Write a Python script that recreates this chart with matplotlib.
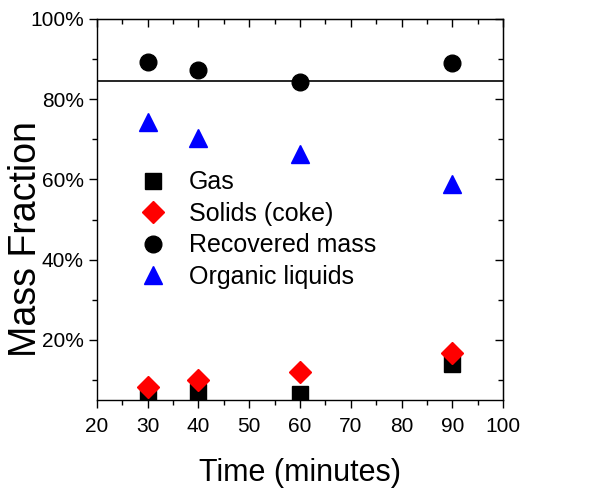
import matplotlib
matplotlib.use("Agg")
import matplotlib.pyplot as plt
from matplotlib.ticker import MultipleLocator, FuncFormatter

plt.rcParams["font.family"] = ["Liberation Sans", "DejaVu Sans"]

time_min = [30, 40, 60, 90]
gas = [6.5, 7.0, 6.5, 14.0]
solids = [8.3, 10.0, 12.0, 16.7]
recovered = [89.3, 87.3, 84.3, 89.0]
organic = [74.3, 70.3, 66.3, 58.8]
mean_recovered = 84.5

fig = plt.figure(figsize=(6.1, 4.96), dpi=100)
ax = fig.add_axes([0.159, 0.1935, 0.6656, 0.7682])

ax.plot(time_min, gas, "s", color="black", markersize=11.5, label="Gas")
ax.plot(time_min, solids, "D", color="red", markersize=11.5, label="Solids (coke)")
ax.plot(time_min, recovered, "o", color="black", markersize=12, label="Recovered mass")
ax.plot(time_min, organic, "^", color="blue", markersize=13.5, label="Organic liquids")
ax.axhline(mean_recovered, color="black", linewidth=1.2)

ax.set_xlim(20, 100)
ax.set_ylim(5, 100)
ax.xaxis.set_major_locator(MultipleLocator(10))
ax.xaxis.set_minor_locator(MultipleLocator(5))
ax.yaxis.set_major_locator(MultipleLocator(20))
ax.yaxis.set_minor_locator(MultipleLocator(10))
ax.yaxis.set_major_formatter(FuncFormatter(lambda v, p: f"{v:.0f}%"))

ax.tick_params(which="both", direction="out", top=False, right=False,
               labelsize=15, width=1.0)
ax.tick_params(which="major", length=6)
ax.tick_params(which="minor", length=3.5)
ax.tick_params(axis="x", pad=6)

# mirrored ticks on top and right point inward
top = ax.secondary_xaxis("top")
top.set_xticks(range(20, 101, 10))
top.xaxis.set_minor_locator(MultipleLocator(5))
top.tick_params(which="both", direction="in", labeltop=False, width=1.0)
top.tick_params(which="major", length=6)
top.tick_params(which="minor", length=3.5)
right = ax.secondary_yaxis("right")
right.yaxis.set_major_locator(MultipleLocator(20))
right.yaxis.set_minor_locator(MultipleLocator(10))
right.tick_params(which="both", direction="in", labelright=False, width=1.0)
right.tick_params(which="major", length=6)
right.tick_params(which="minor", length=3.5)

for sp in ax.spines.values():
    sp.set_linewidth(1.0)

ax.set_xlabel("Time (minutes)", fontsize=22, labelpad=16)
ax.set_ylabel("Mass Fraction", fontsize=27)
ax.yaxis.set_label_coords(-0.13, 0.423)

ax.legend(loc="center left", bbox_to_anchor=(0.107, 0.447), frameon=False,
          fontsize=18, numpoints=1, handlelength=1.0, handletextpad=0.94,
          borderpad=0, borderaxespad=0, labelspacing=0.3)

fig.savefig("out.png", dpi=100)
